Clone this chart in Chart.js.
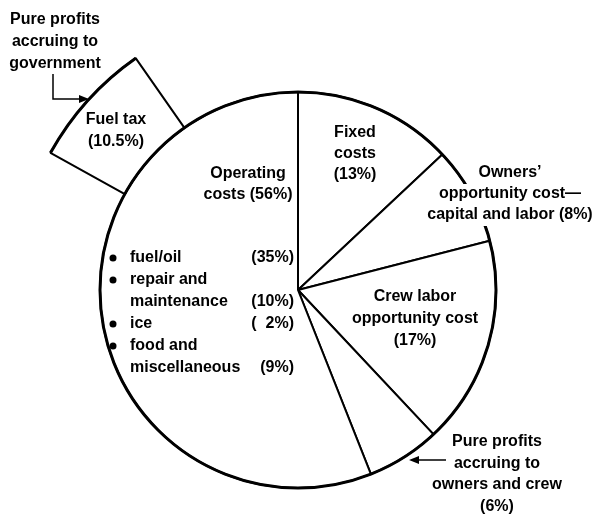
<!DOCTYPE html>
<html lang="en">
<head>
<meta charset="UTF-8">
<title>Cost shares</title>
<style>
  html, body { margin: 0; padding: 0; background: #fff; }
  #wrap { width: 600px; height: 515px; }
</style>
</head>
<body>
<div id="wrap"><canvas id="myChart"></canvas></div>

<script src="https://cdn.jsdelivr.net/npm/chart.js"></script>
<script>
// main pie, clockwise from 12 o'clock
const categories = ['Fixed costs', "Owners' opportunity cost", 'Crew labor opportunity cost', 'Pure profits to owners and crew', 'Operating costs'];
const shares = [13, 8, 17, 6, 56];

// piece pulled out of the operating slice
const taxCategory = ['Fuel tax'];
const taxShare = [10.5];

// breakdown printed inside operating costs
const opItems = [['fuel/oil'], ['repair and', 'maintenance'], ['ice'], ['food and', 'miscellaneous']];
const opLabels = ['(35%)', '(10%)', '(  2%)', '(9%)'];

const FONT = 'bold 16px "Liberation Sans", Arial, sans-serif';

function textBlock(ctx, lines, x, y, lh, align, bg) {
    ctx.textAlign = align;
    lines.forEach((t, i) => {
        const yy = y + i * lh;
        if (bg) {
            const w = ctx.measureText(t).width;
            const left = align === 'center' ? x - w / 2 : (align === 'right' ? x - w : x);
            ctx.fillStyle = '#fff';
            ctx.fillRect(left - 2, yy - 10, w + 4, 21);
        }
        ctx.fillStyle = '#000';
        ctx.fillText(t, x, yy);
    });
}

function arrowHead(ctx, x, y, dir) {
    ctx.beginPath();
    ctx.moveTo(x, y);
    ctx.lineTo(x - dir * 10, y - 4);
    ctx.lineTo(x - dir * 10, y + 4);
    ctx.closePath();
    ctx.fill();
}

const labelsPlugin = {
    id: 'labels',
    afterDatasetsDraw(chart) {
        const ctx = chart.ctx;
        const pie = chart.getDatasetMeta(1).data[0];
        const tax = chart.getDatasetMeta(0).data[0];
        const cx = pie.x, cy = pie.y;

        ctx.save();
        ctx.strokeStyle = '#000';
        // heavier outer rims
        ctx.lineWidth = 3;
        ctx.beginPath();
        ctx.arc(cx, cy, pie.outerRadius, 0, Math.PI * 2);
        ctx.stroke();
        ctx.beginPath();
        ctx.arc(cx, cy, tax.outerRadius, tax.startAngle, tax.endAngle);
        ctx.stroke();

        ctx.font = FONT;
        ctx.textBaseline = 'middle';
        ctx.fillStyle = '#000';

        textBlock(ctx, ['Pure profits', 'accruing to', 'government'], 55, 20, 22, 'center');
        textBlock(ctx, [taxCategory[0], '(' + taxShare[0] + '%)'], 116, 120, 22, 'center');
        textBlock(ctx, ['Operating', 'costs (' + shares[4] + '%)'], 248, 174, 21, 'center');
        textBlock(ctx, ['Fixed', 'costs', '(' + shares[0] + '%)'], 355, 133, 21, 'center');
        textBlock(ctx, ['Owners\u2019', 'opportunity cost\u2014', 'capital and labor (' + shares[1] + '%)'], 510, 173, 21, 'center', true);
        textBlock(ctx, ['Crew labor', 'opportunity cost', '(' + shares[2] + '%)'], 415, 297, 22, 'center');
        textBlock(ctx, ['Pure profits', 'accruing to', 'owners and crew', '(' + shares[3] + '%)'], 497, 442, 21.5, 'center');

        // operating cost breakdown
        let line = 0;
        opItems.forEach((item, i) => {
            const y0 = 258 + line * 22;
            ctx.beginPath();
            ctx.arc(113, y0, 3.5, 0, Math.PI * 2);
            ctx.fill();
            textBlock(ctx, item, 130, y0, 22, 'left');
            textBlock(ctx, [opLabels[i]], 294, y0 + (item.length - 1) * 22, 22, 'right');
            line += item.length;
        });

        // arrows
        ctx.lineWidth = 1.5;
        ctx.beginPath();
        ctx.moveTo(53, 74);
        ctx.lineTo(53, 99);
        ctx.lineTo(80, 99);
        ctx.stroke();
        arrowHead(ctx, 89, 99, 1);

        ctx.beginPath();
        ctx.moveTo(446, 460);
        ctx.lineTo(418, 460);
        ctx.stroke();
        arrowHead(ctx, 409, 460, -1);

        ctx.restore();
    }
};

new Chart(document.getElementById('myChart'), {
    type: 'pie',
    data: {
        labels: categories,
        datasets: [
            {
                label: 'tax',
                data: taxShare,
                rotation: 299,
                circumference: 26,
                weight: 85,
                backgroundColor: '#fff',
                borderColor: '#000',
                borderWidth: 2,
                clip: false,
            },
            {
                label: 'shares',
                data: shares,
                weight: 198,
                backgroundColor: '#fff',
                borderColor: '#000',
                borderWidth: 2,
                clip: false,
            },
        ],
    },
    options: {
        responsive: true,
        maintainAspectRatio: false,
        animation: false,
        radius: 283,
        layout: { padding: { left: 0, right: 4, top: 65, bottom: 0 } },
        plugins: {
            legend: { display: false },
            tooltip: { enabled: false },
            title: { display: false },
        },
    },
    plugins: [labelsPlugin],
});
</script>
</body>
</html>
